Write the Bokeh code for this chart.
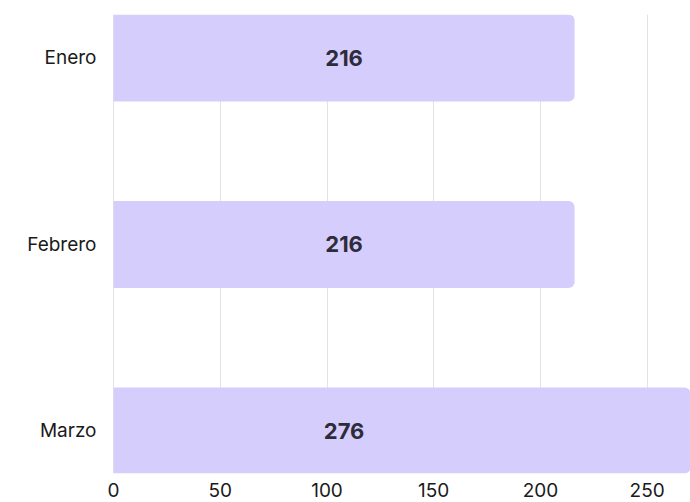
from bokeh.plotting import figure
from bokeh.models import ColumnDataSource, FixedTicker, Range1d
from bokeh.core.properties import value
from bokeh.embed import file_html
from bokeh.resources import INLINE

categories = ["Enero", "Febrero", "Marzo"]
values = [216, 216, 276]
x_ticks = [0, 50, 100, 150, 200, 250]

FONT = "Inter"
ypos = [len(categories) - 1 - i for i in range(len(categories))]
label_x = [min(values) / 2] * len(values)

src = ColumnDataSource(dict(y=ypos, v=values, cat=categories,
                            lx=label_x, txt=[str(v) for v in values]))

p = figure(width=690, height=502, output_backend="svg", toolbar_location=None,
           x_range=Range1d(-0.5, 270.3), y_range=Range1d(-0.228, 2.233),
           min_border_left=112, min_border_right=0, min_border_top=14,
           min_border_bottom=29)
p.outline_line_color = None
p.background_fill_color = "white"
p.border_fill_color = "white"

p.hbar(y="y", right="v", left=0, height=0.466, source=src,
       fill_color="#d5cefd", line_color=None,
       border_radius=(0, 6, 6, 0))
p.text(x="lx", y="y", text="txt", source=src, text_align="center",
       text_baseline="middle", text_font=value(FONT), text_font_style="bold",
       text_font_size="22px", text_color="#2e2b3b")

p.xgrid.ticker = FixedTicker(ticks=x_ticks)
p.xgrid.grid_line_color = "#e3e3e3"
p.xgrid.grid_line_width = 1
p.ygrid.grid_line_color = None

p.xaxis.ticker = FixedTicker(ticks=x_ticks)
p.xaxis.axis_line_color = None
p.xaxis.major_tick_line_color = None
p.xaxis.minor_tick_line_color = None
p.xaxis.major_label_text_font = FONT
p.xaxis.major_label_text_font_size = "19px"
p.xaxis.major_label_text_color = "#1a1a1a"
p.xaxis.major_label_standoff = 3

p.yaxis.ticker = FixedTicker(ticks=ypos)
p.yaxis.major_label_overrides = {y: c for y, c in zip(ypos, categories)}
p.yaxis.axis_line_color = None
p.yaxis.major_tick_line_color = None
p.yaxis.minor_tick_line_color = None
p.yaxis.major_label_text_font = FONT
p.yaxis.major_label_text_font_size = "19px"
p.yaxis.major_label_text_font_style = "normal"
p.yaxis.major_label_text_color = "#1a1a1a"
p.yaxis.major_label_standoff = 10

open("out.html", "w").write(file_html(p, INLINE))
